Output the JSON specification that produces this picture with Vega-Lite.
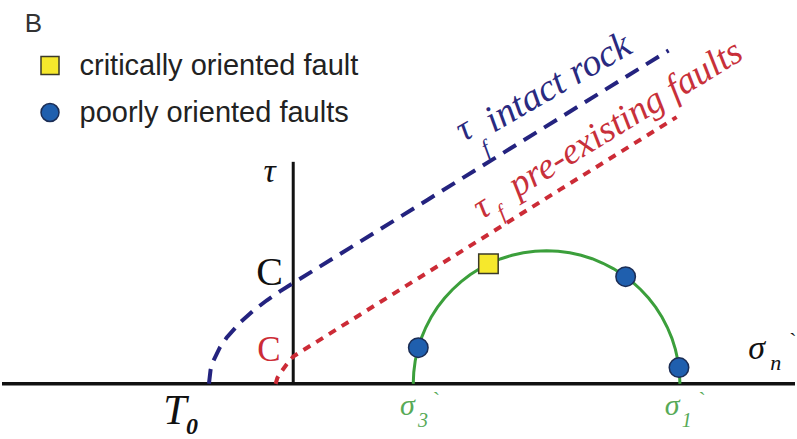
{
  "$schema": "https://vega.github.io/schema/vega-lite/v6.json",
  "width": 797,
  "height": 439,
  "padding": 0,
  "autosize": {"type": "fit", "contains": "padding"},
  "background": "white",
  "config": {
    "view": {"stroke": null},
    "legend": {
      "orient": "none",
      "legendX": 33.5,
      "legendY": 51,
      "padding": 0,
      "title": null,
      "labelFont": "Liberation Sans",
      "labelFontSize": 29,
      "labelColor": "#222222",
      "labelOffset": 15,
      "labelLimit": 500,
      "rowPadding": 17,
      "symbolSize": 324,
      "symbolStrokeWidth": 1.5
    }
  },
  "datasets": {
    "axisH": [{"x": -21.84, "x2": 37.63, "y": 0}],
    "axisV": [{"x": 0, "y": 0, "y2": 16.68}],
    "intactRock": [
      {"x": -6.32, "y": 0}, {"x": -6.2, "y": 1.04}, {"x": -6.0, "y": 1.7},
      {"x": -5.5, "y": 2.73}, {"x": -5.0, "y": 3.46}, {"x": -4.0, "y": 4.59},
      {"x": -3.0, "y": 5.49}, {"x": -2.0, "y": 6.26}, {"x": -1.0, "y": 6.95},
      {"x": 0, "y": 7.57}, {"x": 10, "y": 13.78}, {"x": 20, "y": 19.99},
      {"x": 28.15, "y": 25.05}
    ],
    "preExisting": [
      {"x": -1.32, "y": 0}, {"x": -1.19, "y": 0.45}, {"x": -0.9, "y": 0.9},
      {"x": -0.5, "y": 1.45}, {"x": 0, "y": 2.05}, {"x": 0.5, "y": 2.37},
      {"x": 10, "y": 8.32}, {"x": 20, "y": 14.59}, {"x": 28.75, "y": 20.04}
    ],
    "mohrCircle": [
      {"x": 9.0, "y": 0}, {"x": 9.04, "y": 0.87}, {"x": 9.15, "y": 1.74},
      {"x": 9.34, "y": 2.59}, {"x": 9.6, "y": 3.42}, {"x": 9.94, "y": 4.23},
      {"x": 10.34, "y": 5.0}, {"x": 10.81, "y": 5.74}, {"x": 11.34, "y": 6.43},
      {"x": 11.93, "y": 7.07}, {"x": 12.57, "y": 7.66}, {"x": 13.26, "y": 8.19},
      {"x": 14.0, "y": 8.66}, {"x": 14.77, "y": 9.06}, {"x": 15.58, "y": 9.4},
      {"x": 16.41, "y": 9.66}, {"x": 17.26, "y": 9.85}, {"x": 18.13, "y": 9.96},
      {"x": 19.0, "y": 10.0}, {"x": 19.87, "y": 9.96}, {"x": 20.74, "y": 9.85},
      {"x": 21.59, "y": 9.66}, {"x": 22.42, "y": 9.4}, {"x": 23.23, "y": 9.06},
      {"x": 24.0, "y": 8.66}, {"x": 24.74, "y": 8.19}, {"x": 25.43, "y": 7.66},
      {"x": 26.07, "y": 7.07}, {"x": 26.66, "y": 6.43}, {"x": 27.19, "y": 5.74},
      {"x": 27.66, "y": 5.0}, {"x": 28.06, "y": 4.23}, {"x": 28.4, "y": 3.42},
      {"x": 28.66, "y": 2.59}, {"x": 28.85, "y": 1.74}, {"x": 28.96, "y": 0.87},
      {"x": 29.0, "y": 0}
    ],
    "faults": [
      {"x": 14.64, "y": 9.02, "kind": "critically oriented fault"},
      {"x": 9.38, "y": 2.72, "kind": "poorly oriented faults"},
      {"x": 24.93, "y": 8.05, "kind": "poorly oriented faults"},
      {"x": 28.93, "y": 1.22, "kind": "poorly oriented faults"}
    ],
    "panelLetter": [{"x": -20.13, "y": 26.46, "label": "B"}],
    "cohesionIntact": [{"x": -1.77, "y": 7.46, "label": "C"}],
    "cohesionFault": [{"x": -1.82, "y": 1.73, "label": "C"}],
    "tauAxis": [{"x": -1.77, "y": 15.19, "label": "τ"}],
    "tensile": [{"x": -9.75, "y": -3.02, "label": "T"}],
    "tensileSub": [{"x": -8.04, "y": -3.77, "label": "0"}],
    "sigmaGreen": [
      {"x": 8.01, "y": -2.35, "label": "σ"},
      {"x": 27.87, "y": -2.35, "label": "σ"}
    ],
    "sigmaGreenSub": [
      {"x": 9.35, "y": -3.25, "label": "3"},
      {"x": 29.13, "y": -3.25, "label": "1"}
    ],
    "sigmaGreenPrime": [
      {"x": 10.47, "y": -1.75, "label": "`"},
      {"x": 30.4, "y": -1.75, "label": "`"}
    ],
    "sigmaN": [{"x": 34.13, "y": 1.85, "label": "σ"}],
    "sigmaNSub": [{"x": 35.77, "y": 1.01, "label": "n"}],
    "sigmaNPrime": [{"x": 37.19, "y": 2.72, "label": "`"}],
    "intactTau": [{"x": 12.78, "y": 18.17, "label": "τ"}],
    "intactSub": [{"x": 14.5, "y": 17.13, "label": "f"}],
    "intactText": [{"x": 15.02, "y": 18.84, "label": "intact rock"}],
    "faultTau": [{"x": 14.13, "y": 12.32, "label": "τ"}],
    "faultSub": [{"x": 15.69, "y": 12.3, "label": "f"}],
    "faultText": [{"x": 16.82, "y": 13.99, "label": "pre-existing faults"}]
  },
  "encoding": {
    "x": {"field": "x", "type": "quantitative", "axis": null,
          "scale": {"domain": [-21.84, 37.63], "nice": false, "zero": false}},
    "y": {"field": "y", "type": "quantitative", "axis": null,
          "scale": {"domain": [-3.92, 28.84], "nice": false, "zero": false}}
  },
  "layer": [
    {
      "data": {"name": "axisH"},
      "mark": {"type": "rule", "color": "#111111", "strokeWidth": 3.5},
      "encoding": {"x2": {"field": "x2"}}
    },
    {
      "data": {"name": "axisV"},
      "mark": {"type": "rule", "color": "#111111", "strokeWidth": 3},
      "encoding": {"y2": {"field": "y2"}}
    },
    {
      "data": {"name": "intactRock"},
      "mark": {"type": "line", "color": "#24237f", "strokeWidth": 4,
               "strokeDash": [15, 9], "strokeCap": "butt"}
    },
    {
      "data": {"name": "preExisting"},
      "mark": {"type": "line", "color": "#cc2b36", "strokeWidth": 4,
               "strokeDash": [8, 7], "strokeCap": "butt"}
    },
    {
      "data": {"name": "mohrCircle"},
      "mark": {"type": "line", "color": "#3b9f3b", "strokeWidth": 3}
    },
    {
      "data": {"name": "faults"},
      "mark": {"type": "point", "filled": true, "size": 380, "strokeWidth": 1.5, "opacity": 1},
      "encoding": {
        "shape": {"field": "kind", "type": "nominal",
                  "scale": {"domain": ["critically oriented fault", "poorly oriented faults"],
                            "range": ["square", "circle"]}},
        "fill": {"field": "kind", "type": "nominal",
                 "scale": {"domain": ["critically oriented fault", "poorly oriented faults"],
                           "range": ["#f6e82c", "#1f5fae"]}},
        "stroke": {"field": "kind", "type": "nominal",
                   "scale": {"domain": ["critically oriented fault", "poorly oriented faults"],
                             "range": ["#3b3a28", "#1b2d55"]}}
      }
    },
    {
      "data": {"name": "panelLetter"},
      "mark": {"type": "text", "font": "Liberation Sans", "fontSize": 26, "color": "#333333",
               "align": "left", "baseline": "alphabetic"},
      "encoding": {"text": {"field": "label"}}
    },
    {
      "data": {"name": "cohesionIntact"},
      "mark": {"type": "text", "font": "Liberation Serif", "fontSize": 40, "color": "#111111",
               "align": "center", "baseline": "alphabetic"},
      "encoding": {"text": {"field": "label"}}
    },
    {
      "data": {"name": "cohesionFault"},
      "mark": {"type": "text", "font": "Liberation Serif", "fontSize": 35, "color": "#cc2b36",
               "align": "center", "baseline": "alphabetic"},
      "encoding": {"text": {"field": "label"}}
    },
    {
      "data": {"name": "tauAxis"},
      "mark": {"type": "text", "font": "Liberation Serif", "fontStyle": "italic", "fontSize": 34,
               "color": "#111111", "align": "center", "baseline": "alphabetic"},
      "encoding": {"text": {"field": "label"}}
    },
    {
      "data": {"name": "tensile"},
      "mark": {"type": "text", "font": "Liberation Serif", "fontStyle": "italic", "fontSize": 42,
               "color": "#111111", "align": "left", "baseline": "alphabetic"},
      "encoding": {"text": {"field": "label"}}
    },
    {
      "data": {"name": "tensileSub"},
      "mark": {"type": "text", "font": "Liberation Serif", "fontStyle": "italic", "fontWeight": "bold",
               "fontSize": 24, "color": "#111111", "align": "left", "baseline": "alphabetic"},
      "encoding": {"text": {"field": "label"}}
    },
    {
      "data": {"name": "sigmaGreen"},
      "mark": {"type": "text", "font": "Liberation Serif", "fontStyle": "italic", "fontSize": 30,
               "color": "#57aa57", "align": "left", "baseline": "alphabetic"},
      "encoding": {"text": {"field": "label"}}
    },
    {
      "data": {"name": "sigmaGreenSub"},
      "mark": {"type": "text", "font": "Liberation Serif", "fontStyle": "italic", "fontSize": 20,
               "color": "#57aa57", "align": "left", "baseline": "alphabetic"},
      "encoding": {"text": {"field": "label"}}
    },
    {
      "data": {"name": "sigmaGreenPrime"},
      "mark": {"type": "text", "font": "Liberation Serif", "fontSize": 22,
               "color": "#57aa57", "align": "left", "baseline": "alphabetic"},
      "encoding": {"text": {"field": "label"}}
    },
    {
      "data": {"name": "sigmaN"},
      "mark": {"type": "text", "font": "Liberation Serif", "fontStyle": "italic", "fontSize": 34,
               "color": "#111111", "align": "left", "baseline": "alphabetic"},
      "encoding": {"text": {"field": "label"}}
    },
    {
      "data": {"name": "sigmaNSub"},
      "mark": {"type": "text", "font": "Liberation Serif", "fontStyle": "italic", "fontSize": 22,
               "color": "#111111", "align": "left", "baseline": "alphabetic"},
      "encoding": {"text": {"field": "label"}}
    },
    {
      "data": {"name": "sigmaNPrime"},
      "mark": {"type": "text", "font": "Liberation Serif", "fontSize": 22,
               "color": "#111111", "align": "left", "baseline": "alphabetic"},
      "encoding": {"text": {"field": "label"}}
    },
    {
      "data": {"name": "intactTau"},
      "mark": {"type": "text", "font": "Liberation Serif", "fontStyle": "italic", "fontSize": 36,
               "color": "#2a2a80", "align": "left", "baseline": "alphabetic", "angle": -30},
      "encoding": {"text": {"field": "label"}}
    },
    {
      "data": {"name": "intactSub"},
      "mark": {"type": "text", "font": "Liberation Serif", "fontStyle": "italic", "fontSize": 22,
               "color": "#2a2a80", "align": "left", "baseline": "alphabetic", "angle": -30},
      "encoding": {"text": {"field": "label"}}
    },
    {
      "data": {"name": "intactText"},
      "mark": {"type": "text", "font": "Liberation Serif", "fontStyle": "italic", "fontSize": 38,
               "color": "#2a2a80", "align": "left", "baseline": "alphabetic", "angle": -30},
      "encoding": {"text": {"field": "label"}}
    },
    {
      "data": {"name": "faultTau"},
      "mark": {"type": "text", "font": "Liberation Serif", "fontStyle": "italic", "fontSize": 36,
               "color": "#c8303a", "align": "left", "baseline": "alphabetic", "angle": -31.5},
      "encoding": {"text": {"field": "label"}}
    },
    {
      "data": {"name": "faultSub"},
      "mark": {"type": "text", "font": "Liberation Serif", "fontStyle": "italic", "fontSize": 22,
               "color": "#c8303a", "align": "left", "baseline": "alphabetic", "angle": -31.5},
      "encoding": {"text": {"field": "label"}}
    },
    {
      "data": {"name": "faultText"},
      "mark": {"type": "text", "font": "Liberation Serif", "fontStyle": "italic", "fontSize": 37,
               "color": "#c8303a", "align": "left", "baseline": "alphabetic", "angle": -31.5},
      "encoding": {"text": {"field": "label"}}
    }
  ]
}
